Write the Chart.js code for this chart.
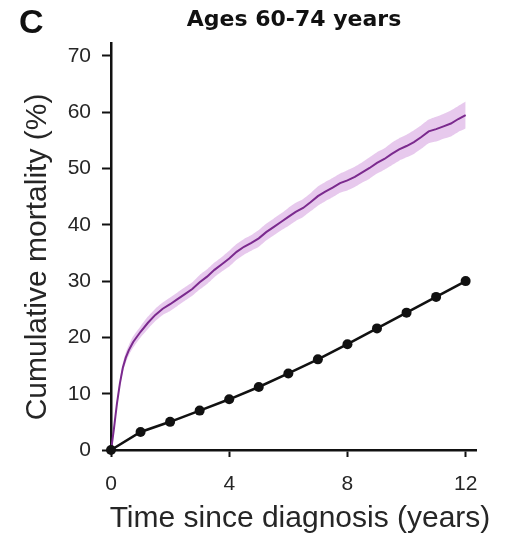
<!DOCTYPE html>
<html>
<head>
<meta charset="utf-8">
<script src="https://cdn.jsdelivr.net/npm/chart.js@4.4.1/dist/chart.umd.min.js"></script>
<style>
  html, body { margin: 0; padding: 0; background: #ffffff; }
  canvas { display: block; }
</style>
</head>
<body>
<canvas id="chart" width="506" height="538"></canvas>
<script>
// Cumulative mortality, ages 60-74 years

// Patients: follow-up times (years), cumulative mortality (%) and confidence band
const patientTimes = [0, 0.05, 0.1, 0.15, 0.2, 0.3, 0.4, 0.5, 0.6, 0.75,
  1, 1.25, 1.5, 1.75, 2, 2.25, 2.5, 2.75, 3, 3.25, 3.5, 3.75,
  4, 4.25, 4.5, 4.75, 5, 5.25, 5.5, 5.75, 6, 6.25, 6.5, 6.75,
  7, 7.25, 7.5, 7.75, 8, 8.25, 8.5, 8.75, 9, 9.25, 9.5, 9.75,
  10, 10.25, 10.5, 10.75, 11, 11.25, 11.5, 11.75, 12];
const patientMortality = [0, 1.8, 3.8, 6.0, 8.2, 11.8, 14.6, 16.4, 17.7, 19.2,
  21.0, 22.6, 24.0, 25.1, 25.9, 26.8, 27.7, 28.6, 29.8, 30.8, 32.0, 33.0,
  34.0, 35.2, 36.1, 36.8, 37.6, 38.7, 39.6, 40.5, 41.4, 42.3, 43.0, 44.0,
  45.1, 45.9, 46.6, 47.4, 47.9, 48.5, 49.3, 50.1, 51.0, 51.7, 52.6, 53.4,
  54.0, 54.7, 55.6, 56.6, 57.0, 57.5, 58.0, 58.8, 59.5];
const patientLower = [0, 1.5, 3.4, 5.5, 7.6, 11.1, 13.8, 15.5, 16.8, 18.2,
  20.0, 21.5, 22.9, 24.0, 24.7, 25.6, 26.5, 27.4, 28.5, 29.5, 30.7, 31.7,
  32.6, 33.8, 34.7, 35.4, 36.1, 37.2, 38.1, 39.0, 39.8, 40.7, 41.4, 42.4,
  43.4, 44.2, 44.9, 45.7, 46.1, 46.7, 47.5, 48.2, 49.1, 49.8, 50.6, 51.4,
  52.0, 52.6, 53.5, 54.5, 54.8, 55.3, 55.7, 56.5, 57.1];
const patientUpper = [0, 2.1, 4.2, 6.5, 8.8, 12.5, 15.4, 17.3, 18.6, 20.2,
  22.0, 23.7, 25.1, 26.2, 27.1, 28.0, 28.9, 29.8, 31.1, 32.1, 33.3, 34.3,
  35.4, 36.6, 37.5, 38.2, 39.1, 40.2, 41.1, 42.0, 43.0, 43.9, 44.6, 45.6,
  46.8, 47.6, 48.3, 49.1, 49.7, 50.3, 51.1, 52.0, 52.9, 53.6, 54.6, 55.4,
  56.0, 56.8, 57.7, 58.7, 59.2, 59.7, 60.3, 61.1, 61.9];

// Matched general population: yearly cumulative mortality (%)
const populationYears = [0, 1, 2, 3, 4, 5, 6, 7, 8, 9, 10, 11, 12];
const populationMortality = [0, 3.2, 5.0, 7.0, 9.0, 11.2, 13.6, 16.1, 18.8, 21.6, 24.4, 27.2, 30.0];

// Axis ticks
const xTicks = [0, 4, 8, 12];
const yTicks = [0, 10, 20, 30, 40, 50, 60, 70];

const toPoints = (xs, ys) => xs.map((x, i) => ({ x: x, y: ys[i] }));

const PURPLE = '#7b2a8e';
const BAND = 'rgba(216, 168, 226, 0.62)';
const INK = '#111111';
const LABEL = '#262626';

// Panel letter, title and axis titles
const annotations = {
  id: 'annotations',
  afterDraw(chart) {
    const ctx = chart.ctx;
    ctx.save();
    ctx.fillStyle = INK;
    ctx.textBaseline = 'alphabetic';

    ctx.font = 'bold 34px "Liberation Sans", Arial, sans-serif';
    ctx.textAlign = 'left';
    ctx.fillText('C', 19, 33);

    ctx.font = 'bold 22px "DejaVu Sans", sans-serif';
    ctx.textAlign = 'center';
    ctx.fillText('Ages 60-74 years', 294, 26);

    ctx.fillStyle = LABEL;
    ctx.font = '30px "Liberation Sans", Arial, sans-serif';
    ctx.textAlign = 'center';
    ctx.fillText('Time since diagnosis (years)', 300, 527);

    ctx.translate(46, 257);
    ctx.rotate(-Math.PI / 2);
    ctx.fillText('Cumulative mortality (%)', 0, 0);
    ctx.restore();
  }
};

new Chart(document.getElementById('chart'), {
  type: 'line',
  data: {
    datasets: [
      {
        label: 'General population',
        data: toPoints(populationYears, populationMortality),
        borderColor: INK,
        backgroundColor: INK,
        borderWidth: 2.6,
        pointRadius: 5,
        pointBorderWidth: 0,
        pointBackgroundColor: INK,
        tension: 0,
        fill: false,
        clip: false
      },
      {
        label: 'Patients',
        data: toPoints(patientTimes, patientMortality),
        borderColor: PURPLE,
        borderWidth: 2,
        pointRadius: 0,
        tension: 0,
        fill: false
      },
      {
        label: 'Lower bound',
        data: toPoints(patientTimes, patientLower),
        borderWidth: 0,
        borderColor: 'rgba(0,0,0,0)',
        pointRadius: 0,
        tension: 0.2,
        fill: false
      },
      {
        label: 'Upper bound',
        data: toPoints(patientTimes, patientUpper),
        borderWidth: 0,
        borderColor: 'rgba(0,0,0,0)',
        backgroundColor: BAND,
        pointRadius: 0,
        tension: 0.2,
        fill: '-1'
      }
    ]
  },
  options: {
    responsive: false,
    animation: false,
    layout: { padding: { top: 43, right: 30, left: 0, bottom: 0 } },
    plugins: {
      legend: { display: false },
      tooltip: { enabled: false },
      title: { display: false }
    },
    scales: {
      x: {
        type: 'linear',
        min: 0,
        max: 12.35,
        afterBuildTicks: (scale) => { scale.ticks = xTicks.map(v => ({ value: v })); },
        afterFit: (scale) => { scale.height = 88; },
        border: { display: true, color: INK, width: 2.5 },
        grid: { display: true, drawOnChartArea: false, drawTicks: true, tickLength: 7, tickWidth: 2, tickColor: INK },
        ticks: {
          color: LABEL,
          padding: 15,
          maxRotation: 0,
          font: { family: '"Liberation Sans", Arial, sans-serif', size: 21 }
        }
      },
      y: {
        type: 'linear',
        min: 0,
        max: 72.3,
        afterBuildTicks: (scale) => { scale.ticks = yTicks.map(v => ({ value: v })); },
        afterFit: (scale) => { scale.width = 111; },
        border: { display: true, color: INK, width: 2.5 },
        grid: { display: true, drawOnChartArea: false, drawTicks: true, tickLength: 9, tickWidth: 2, tickColor: INK },
        ticks: {
          color: LABEL,
          padding: 11,
          font: { family: '"Liberation Sans", Arial, sans-serif', size: 21 }
        }
      }
    }
  },
  plugins: [annotations]
});
</script>
</body>
</html>
